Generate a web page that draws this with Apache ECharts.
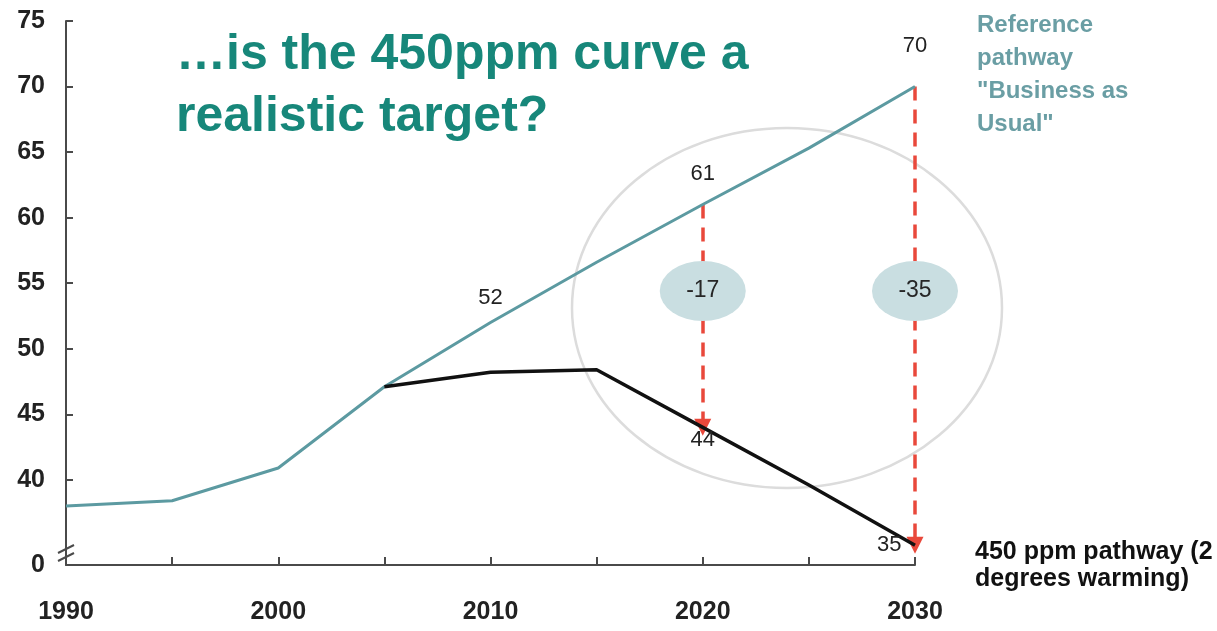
<!DOCTYPE html>
<html>
<head>
<meta charset="utf-8">
<script src="https://cdn.jsdelivr.net/npm/echarts@6/dist/echarts.min.js"></script>
<style>
  html, body { margin: 0; padding: 0; background: #ffffff; }
  #chart { width: 1217px; height: 631px; }
</style>
</head>
<body>
<div id="chart"></div>
<script>
// Emissions pathways (Gt CO2-eq)
const years = [1990, 1995, 2000, 2005, 2010, 2015, 2020, 2025, 2030];
const referencePathway = [38.0, 38.4, 40.9, 47.1, 52, 56.6, 61, 65.3, 70];
const pathway450Years = [2005, 2010, 2015, 2020, 2025, 2030];
const pathway450 = [47.1, 48.2, 48.4, 44, 39.6, 35];

// Axis ticks
const xLabelYears = [1990, 2000, 2010, 2020, 2030];
const yTickLabels = [0, 40, 45, 50, 55, 60, 65, 70, 75];

// Which points carry a value label, and where the gap is measured
const referenceLabelYears = [2010, 2020, 2030];
const pathway450LabelYears = [2020, 2030];
const gapYears = [2020, 2030];

// The value axis is broken below 40: the "0" tick sits at this floor
const axisFloor = 33.5;
const gapBadgeLevel = 54.4;

const FONT = "'Liberation Sans', Arial, Helvetica, sans-serif";
const TEAL_LINE = '#5c9aa1';
const RED = '#e9483b';
const AXIS = '#4a4a4a';

const yTickValues = yTickLabels.map(v => (v === 0 ? axisFloor : v));

const refLabelStyle = {
  2010: { position: 'top', distance: 13 },
  2020: { position: 'top', distance: 19 },
  2030: { position: 'top', distance: 29 }
};
const p450LabelStyle = {
  2020: { position: 'bottom', distance: 1 },
  2030: { position: 'left', distance: 13 }
};

function pointItem(year, value, labelYears, styleMap) {
  const item = { value: [year, value] };
  if (labelYears.includes(year)) {
    item.label = Object.assign({
      show: true,
      formatter: String(Math.round(value)),
      color: '#222',
      fontSize: 22,
      fontFamily: FONT
    }, styleMap[year]);
  }
  return item;
}

const referenceData = years.map((y, i) =>
  pointItem(y, referencePathway[i], referenceLabelYears, refLabelStyle));
const pathway450Data = pathway450Years.map((y, i) =>
  pointItem(y, pathway450[i], pathway450LabelYears, p450LabelStyle));

const gapLines = gapYears.map(y => {
  const hi = referencePathway[years.indexOf(y)];
  const lo = pathway450[pathway450Years.indexOf(y)];
  return [{ coord: [y, hi] }, { coord: [y, lo] }];
});
const gapBadges = gapYears.map(y => {
  const hi = referencePathway[years.indexOf(y)];
  const lo = pathway450[pathway450Years.indexOf(y)];
  return { value: [y, gapBadgeLevel], gap: Math.round(lo - hi) };
});

const chart = echarts.init(document.getElementById('chart'), null, { renderer: 'canvas' });

const option = {
  animation: false,
  backgroundColor: '#ffffff',
  grid: { left: 66, right: 302, top: 21, bottom: 66, containLabel: false },
  xAxis: {
    type: 'value',
    min: 1990,
    max: 2030,
    interval: 5,
    axisLine: { show: true, onZero: false, lineStyle: { color: AXIS, width: 2 } },
    axisTick: { show: true, inside: true, length: 8, lineStyle: { color: AXIS, width: 2 } },
    axisLabel: {
      customValues: xLabelYears,
      formatter: v => String(v),
      margin: 35,
      color: '#222',
      fontSize: 25,
      fontWeight: 'bold',
      fontFamily: FONT
    },
    splitLine: { show: false }
  },
  yAxis: {
    type: 'value',
    min: axisFloor,
    max: 75,
    axisLine: { show: true, lineStyle: { color: AXIS, width: 2 } },
    axisTick: {
      show: true, inside: true, length: 7,
      customValues: yTickValues.filter(v => v !== axisFloor),
      lineStyle: { color: AXIS, width: 2 }
    },
    axisLabel: {
      customValues: yTickValues,
      formatter: v => String(yTickLabels[yTickValues.indexOf(v)]),
      margin: 21,
      color: '#222',
      fontSize: 25,
      fontWeight: 'bold',
      fontFamily: FONT
    },
    splitLine: { show: false }
  },
  series: [
    {
      name: 'Reference pathway',
      type: 'line',
      data: referenceData,
      symbol: 'circle',
      symbolSize: 1,
      showSymbol: true,
      itemStyle: { color: 'rgba(0,0,0,0)' },
      lineStyle: { color: TEAL_LINE, width: 3 },
      silent: true,
      z: 3
    },
    {
      name: '450 ppm pathway',
      type: 'line',
      data: pathway450Data,
      symbol: 'circle',
      symbolSize: 1,
      showSymbol: true,
      itemStyle: { color: 'rgba(0,0,0,0)' },
      lineStyle: { color: '#111111', width: 3.5 },
      silent: true,
      z: 3,
      markLine: {
        silent: true,
        symbol: ['none', 'triangle'],
        symbolSize: 17,
        label: { show: false },
        lineStyle: { color: RED, width: 3.5, type: [14, 9] },
        itemStyle: { color: RED },
        data: gapLines,
        z: 2
      }
    },
    {
      name: 'gap',
      type: 'scatter',
      data: gapBadges,
      symbol: 'circle',
      symbolSize: [86, 60],
      itemStyle: { color: '#c9dee1', opacity: 1 },
      label: {
        show: true,
        position: 'inside',
        formatter: p => String(p.data.gap),
        color: '#262626',
        fontSize: 23,
        fontFamily: FONT
      },
      silent: true,
      z: 10
    }
  ],
  graphic: [
    {
      type: 'ellipse',
      shape: { cx: 787, cy: 308, rx: 215, ry: 180 },
      style: { fill: 'none', stroke: '#dcdcdc', lineWidth: 2.5 },
      silent: true,
      z: 1
    },
    {
      type: 'text',
      left: 176,
      top: 24,
      style: {
        text: '…is the 450ppm curve a\nrealistic target?',
        fill: '#17877a',
        font: "bold 50px " + FONT,
        lineHeight: 62
      },
      silent: true
    },
    {
      type: 'text',
      left: 977,
      top: 9,
      style: {
        text: 'Reference\npathway\n"Business as\nUsual"',
        fill: '#6a9ea4',
        font: "bold 24px " + FONT,
        lineHeight: 33
      },
      silent: true
    },
    {
      type: 'text',
      left: 975,
      top: 539,
      style: {
        text: '450 ppm pathway (2\ndegrees warming)',
        fill: '#111111',
        font: "bold 25px " + FONT,
        lineHeight: 27
      },
      silent: true
    },
    // axis-break marks on the value axis
    {
      type: 'line',
      shape: { x1: 58, y1: 553, x2: 74, y2: 545 },
      style: { stroke: AXIS, lineWidth: 2 },
      silent: true
    },
    {
      type: 'line',
      shape: { x1: 58, y1: 561, x2: 74, y2: 553 },
      style: { stroke: AXIS, lineWidth: 2 },
      silent: true
    }
  ]
};

chart.setOption(option);
</script>
</body>
</html>
